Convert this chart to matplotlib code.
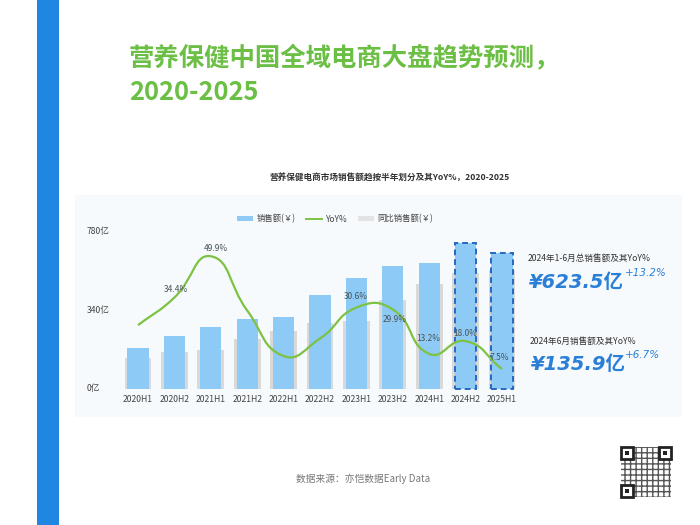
import numpy as np
import matplotlib
matplotlib.use("Agg")
import matplotlib.pyplot as plt
import matplotlib.transforms as mtrans
from matplotlib.patches import Rectangle, Patch, PathPatch
from matplotlib.lines import Line2D
from matplotlib.path import Path

plt.rcParams['font.family'] = ['Noto Sans CJK SC', 'DejaVu Sans']

# ---------------- data ----------------
categories = ['2020H1', '2020H2', '2021H1', '2021H2', '2022H1', '2022H2',
              '2023H1', '2023H2', '2024H1', '2024H2', '2025H1']
sales = [205, 264, 307, 347, 357, 467, 552, 611, 623.5, 722, 673]
sales_prev = [155, 183, 193, 248, 289, 326, 337, 441, 519, 574, 590]
yoy = [24.0, 34.4, 49.9, 29.5, 12.4, 19.0, 30.6, 29.9, 13.2, 18.0, 7.5]
yoy_labels = ['', '34.4%', '49.9%', '', '', '', '30.6%', '29.9%', '13.2%', '18.0%', '7.5%']
forecast = [False] * 9 + [True, True]
ytick_vals = [0, 390, 780]
ytick_text = ['0亿', '340亿', '780亿']

title = '营养保健中国全域电商大盘趋势预测，\n2020-2025'
subtitle = '营养保健电商市场销售额趋按半年划分及其YoY%，2020-2025'
legend_labels = ['销售额(￥)', 'YoY%', '同比销售额(￥)']
source = '数据来源：亦恺数据Early Data'
kpi1_title, kpi1_value, kpi1_yoy = '2024年1-6月总销售额及其YoY%', '¥623.5', '+13.2%'
kpi2_title, kpi2_value, kpi2_yoy = '2024年6月销售额及其YoY%', '¥135.9', '+6.7%'

# ---------------- style ----------------
W, H = 700, 525
BLUE_BAR = '#8dcaf6'
GRAY_BAR = '#d9d9d9'
GREEN = '#7dc242'
DASH = '#2868c0'
KPI_BLUE = '#2b7fd6'

def fx(x): return x / W
def fy(y): return 1 - y / H

fig = plt.figure(figsize=(7, 5.25), dpi=100)
fig.patch.set_facecolor('white')

# left blue stripe
fig.add_artist(Rectangle((fx(37), 0), fx(59) - fx(37), 1, transform=fig.transFigure,
                         facecolor='#1f86e2', edgecolor='none', zorder=0))
# chart panel
fig.add_artist(Rectangle((fx(75), fy(417)), fx(682) - fx(75), fy(195) - fy(417),
                         transform=fig.transFigure, facecolor='#f6fafd',
                         edgecolor='none', zorder=0))

# title
fig.text(fx(129), fy(75), title, fontsize=18.3, fontweight='bold', color='#6cbf45',
         ha='left', va='center', linespacing=1.38)
fig.text(fx(390), fy(178), subtitle, fontsize=6.2, fontweight='bold', color='#333333',
         ha='center', va='center')

# main axes
x0, x1 = 119.8, 520.2
yb, yt = 389, 231.7
ax = fig.add_axes([fx(x0), fy(yb), (x1 - x0) / W, (yb - yt) / H])
ax.set_facecolor('none')
x = np.arange(len(categories))
ax.bar(x, sales_prev, width=0.74, color=GRAY_BAR, zorder=1)
for i in range(len(categories)):
    if forecast[i]:
        ax.bar(x[i], sales[i], width=0.577, color=BLUE_BAR, edgecolor=DASH,
               linewidth=1.4, linestyle=(0, (3, 2)), zorder=2, clip_on=False)
    else:
        ax.bar(x[i], sales[i], width=0.577, color=BLUE_BAR, zorder=2)
ax.set_xlim(-0.5, len(categories) - 0.5)
ax.set_ylim(0, 780)
for s in ax.spines.values():
    s.set_visible(False)
ax.set_yticks([])
ax.set_xticks(x)
ax.set_xticklabels(categories, fontsize=6.2, color='#444444')
ax.tick_params(axis='x', length=0, pad=4)

# y labels, left aligned
trans = mtrans.blended_transform_factory(fig.transFigure, ax.transData)
for v, t in zip(ytick_vals, ytick_text):
    ax.text(fx(87), v, t, transform=trans, fontsize=6.2, color='#444444',
            ha='left', va='center')

# yoy smooth line on twin axis
ax2 = ax.twinx()
ax2.set_ylim(0, (yb - yt) / 2.66)
ax2.set_axis_off()
pts = ax2.transData.transform(np.column_stack([x, yoy]))
smooth = 0.5
n = len(pts)
cps_in = [None] * n
cps_out = [None] * n
for i in range(n):
    p = pts[i]
    prev = pts[i - 1] if i > 0 else p
    nxt = pts[i + 1] if i < n - 1 else p
    v = nxt - prev
    d0 = np.hypot(*(p - prev))
    d1 = np.hypot(*(nxt - p))
    r = d1 / (d0 + d1) if (d0 + d1) > 0 else 0.5
    cps_in[i] = p - v * smooth * (1 - r)
    cps_out[i] = p + v * smooth * r
verts = [pts[0]]
codes = [Path.MOVETO]
for i in range(n - 1):
    verts += [cps_out[i], cps_in[i + 1], pts[i + 1]]
    codes += [Path.CURVE4] * 3
verts = ax2.transData.inverted().transform(np.array(verts))
ax2.add_patch(PathPatch(Path(verts, codes), facecolor='none', edgecolor=GREEN,
                        linewidth=1.6, zorder=5, clip_on=False))

label_offsets = [(0, 0), (2, 8), (5, 8), (0, 0), (0, 0), (0, 0),
                 (-1, 11), (2, -10), (-1, 15), (0, 8), (-3, 12)]
for i, lab in enumerate(yoy_labels):
    if lab:
        ax2.annotate(lab, (x[i], yoy[i]), xytext=label_offsets[i],
                     textcoords='offset pixels', ha='center', va='center',
                     fontsize=6, color='#4a5555', zorder=6)

# legend
handles = [Patch(facecolor=BLUE_BAR, edgecolor='none'),
           Line2D([0], [0], color=GREEN, lw=1.4),
           Patch(facecolor='#e3e3e3', edgecolor='none')]
fig.legend(handles, legend_labels, loc='center', bbox_to_anchor=(fx(335), fy(219)),
           ncol=3, frameon=False, fontsize=6, handlelength=2.0, handleheight=0.45,
           columnspacing=1.2, handletextpad=0.4, labelcolor='#444444')

# KPI texts
fig.text(fx(528), fy(258), kpi1_title, fontsize=6.2, color='#333333', ha='left', va='center')
fig.text(fx(529), fy(283), kpi1_value + '亿', fontsize=14, style='italic', fontweight='bold',
         color=KPI_BLUE, ha='left', va='center',
         family=['DejaVu Sans', 'Noto Sans CJK SC'])
fig.text(fx(625), fy(273), kpi1_yoy, fontsize=7.5, style='italic', color=KPI_BLUE,
         ha='left', va='center', family=['DejaVu Sans'])
fig.text(fx(530), fy(341), kpi2_title, fontsize=6.2, color='#333333', ha='left', va='center')
fig.text(fx(531), fy(365), kpi2_value + '亿', fontsize=14, style='italic', fontweight='bold',
         color=KPI_BLUE, ha='left', va='center',
         family=['DejaVu Sans', 'Noto Sans CJK SC'])
fig.text(fx(625), fy(355), kpi2_yoy, fontsize=7.5, style='italic', color=KPI_BLUE,
         ha='left', va='center', family=['DejaVu Sans'])

# source
fig.text(fx(363), fy(479), source, fontsize=7, color='#777777', ha='center', va='center')

# QR-like decoration
qx, qy, qs = 621, 447, 50
plt.rcParams['hatch.color'] = '#444444'
fig.add_artist(Rectangle((fx(qx), fy(qy + qs)), qs / W, qs / H, transform=fig.transFigure,
                         facecolor='white', edgecolor='#555555', hatch='+++',
                         linewidth=0, zorder=1))
for (dx, dy) in [(0, 0), (qs - 12, 0), (0, qs - 12)]:
    fig.add_artist(Rectangle((fx(qx + dx), fy(qy + dy + 12)), 12 / W, 12 / H,
                             transform=fig.transFigure, facecolor='white',
                             edgecolor='#222222', linewidth=2, zorder=2))
    fig.add_artist(Rectangle((fx(qx + dx + 4), fy(qy + dy + 8)), 4 / W, 4 / H,
                             transform=fig.transFigure, facecolor='#222222',
                             edgecolor='none', zorder=3))

fig.savefig('out.png', dpi=100, facecolor='white')
